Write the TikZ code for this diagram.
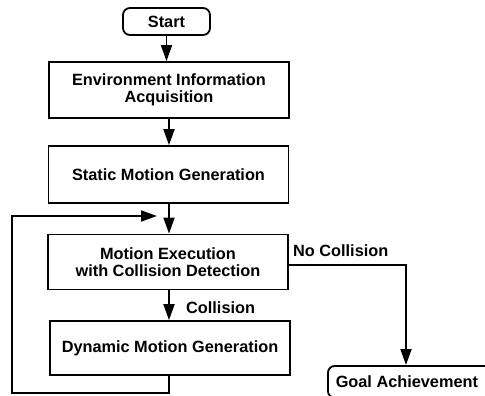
\documentclass[tikz,border=0pt]{standalone}
\usepackage{fontspec}
\setmainfont{Liberation Sans}
\usetikzlibrary{arrows.meta}
\begin{document}
\begin{tikzpicture}[x=1pt,y=-1pt,
  every node/.style={font=\fontsize{16.3}{18.5}\selectfont\bfseries},
  box/.style={draw,line width=1.8pt,minimum width=240pt,align=center,inner sep=0pt},
  term/.style={draw,line width=1.8pt,rounded corners=7pt,inner sep=0pt},
  conn/.style={line width=1.8pt,-{Triangle[length=16pt,width=11pt]}},
  plain/.style={line width=1.8pt},
  lab/.style={anchor=west,inner sep=0pt}]
\useasboundingbox (0,0) rectangle (485,396);
\begin{scope}
\clip (0,0) rectangle (485,396);
\node[term,minimum width=87pt,minimum height=27pt] (start) at (166.5,21.5) {Start};
\node[box,minimum height=56pt] (env) at (169,90) {Environment Information\\[-1pt]Acquisition};
\node[box,minimum height=57pt] (static) at (168.5,174.5) {Static Motion Generation};
\node[box,minimum height=55pt] (motion) at (168,262) {Motion Execution\\[-1pt]with Collision Detection};
\node[box,minimum height=54pt] (dyn) at (170,348) {Dynamic Motion Generation};
\node[term,minimum width=166pt,minimum height=32pt,anchor=north west] (goal) at (327,365) {\hspace*{-8pt}Goal Achievement};
\coordinate (loopstart) at (169,393);
\coordinate (loopbl) at (12,393);
\coordinate (looptl) at (12,216);
\coordinate (looptip) at (157,216);
\coordinate (nc) at (406,265);
\draw[conn] (start.south -| 166.5,0) -- (env.north -| 166.5,0);
\draw[conn] (env.south -| 169,0) -- (static.north -| 169,0);
\draw[conn] (static.south -| 169,0) -- (motion.north -| 169,0);
\draw[conn] (motion.south -| 169,0) -- (dyn.north -| 169,0);
\draw[conn,line join=miter] (dyn.south -| 169,0) -- (loopstart) -- (loopbl) -- (looptl) -- (looptip);
\draw[conn,line join=miter] (motion.east |- nc) -- (nc) -- (goal.north -| nc);
\node[lab] (ncl) at (293,251) {No Collision};
\node[lab] (cl) at (186,308) {Collision};
\end{scope}
\end{tikzpicture}
\end{document}
